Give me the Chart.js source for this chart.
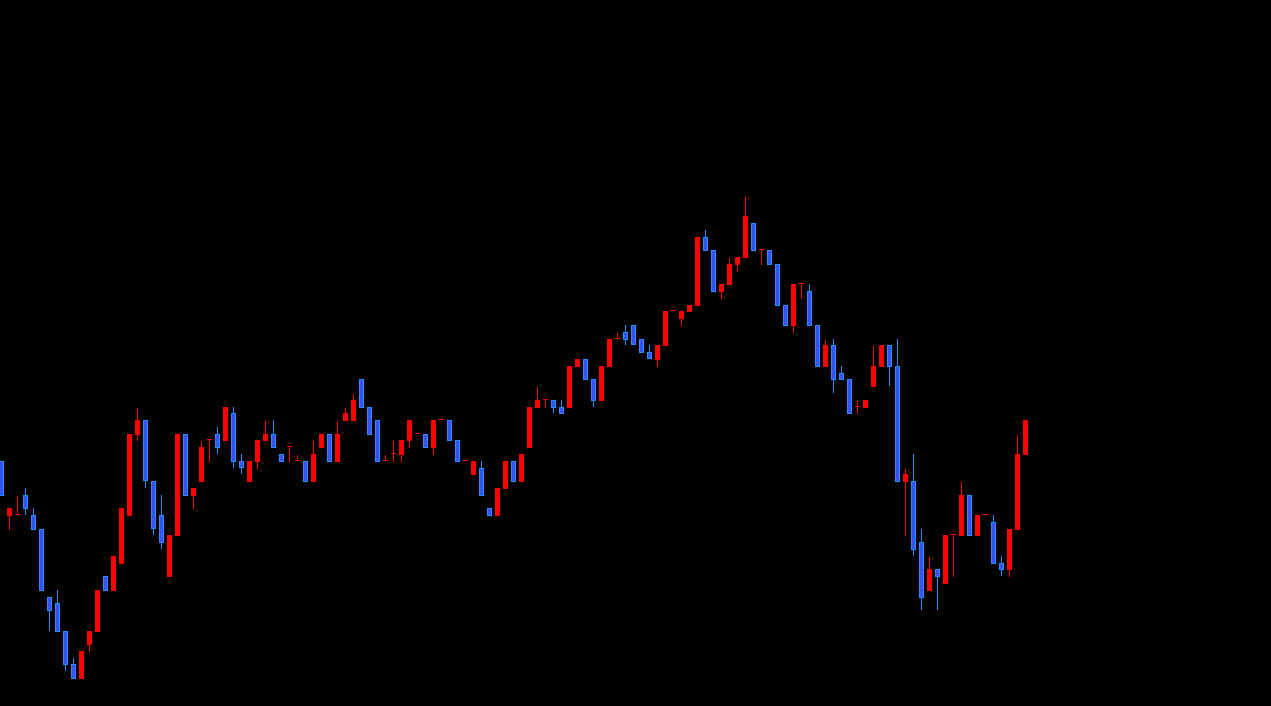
<!DOCTYPE html>
<html>
<head>
<meta charset="utf-8">
<title>Candles</title>
<script src="https://cdn.jsdelivr.net/npm/chart.js@4.4.1/dist/chart.umd.min.js"></script>
<style>
  html, body { margin: 0; padding: 0; background: #000; }
  #wrap { width: 1271px; height: 706px; }
</style>
</head>
<body>
<div id="wrap"><canvas id="candle-chart"></canvas></div>
<script>
// price data, one entry per bar (oldest first)
const opens = [245, 190, 191, 211, 191, 177, 109, 103, 75, 42, 27, 61, 74, 130, 115, 142, 190, 271, 286, 225,
  191, 129, 170, 272, 210, 224, 266, 272, 265, 293, 245, 224, 244, 265, 272, 252, 259, 245, 245, 224,
  258, 272, 244, 285, 285, 327, 299, 286, 245, 252, 251, 265, 272, 272, 258, 286, 286, 266, 245, 231,
  238, 198, 190, 217, 245, 224, 258, 298, 306, 306, 299, 298, 339, 347, 327, 305, 339, 367, 374, 381,
  367, 354, 346, 360, 395, 387, 394, 400, 469, 456, 414, 421, 441, 448, 483, 456, 456, 442, 401, 380,
  422, 415, 381, 339, 361, 333, 327, 299, 298, 319, 339, 361, 340, 224, 225, 164, 115, 137, 122, 171,
  170, 211, 170, 191, 184, 143, 136, 176, 251]
const highs = [245, 198, 210, 218, 198, 177, 109, 116, 75, 48, 55, 75, 116, 130, 150, 198, 272, 298, 286, 225,
  211, 171, 272, 272, 218, 265, 266, 279, 299, 299, 252, 245, 266, 285, 286, 252, 259, 251, 245, 265,
  272, 272, 285, 298, 312, 327, 299, 286, 251, 265, 266, 286, 272, 272, 286, 286, 286, 266, 245, 245,
  245, 198, 218, 245, 245, 252, 299, 319, 306, 306, 306, 340, 347, 347, 327, 340, 367, 373, 381, 381,
  367, 361, 361, 395, 395, 395, 401, 469, 476, 456, 422, 448, 449, 509, 483, 456, 456, 442, 401, 422,
  422, 422, 381, 366, 367, 340, 327, 305, 306, 360, 361, 361, 367, 237, 252, 177, 149, 137, 171, 171,
  224, 211, 191, 191, 191, 150, 177, 271, 286]
const lows = [210, 176, 191, 191, 176, 115, 75, 74, 35, 27, 27, 54, 74, 115, 115, 142, 190, 265, 218, 171,
  157, 129, 170, 210, 197, 224, 244, 252, 265, 238, 232, 224, 237, 265, 258, 244, 244, 245, 224, 224,
  258, 244, 244, 285, 285, 298, 271, 244, 245, 244, 244, 258, 272, 258, 251, 286, 265, 244, 245, 231,
  210, 190, 190, 217, 224, 224, 258, 298, 298, 293, 292, 298, 339, 326, 299, 305, 339, 367, 361, 361,
  353, 347, 339, 360, 395, 380, 394, 400, 455, 414, 407, 421, 434, 448, 455, 441, 441, 400, 380, 373,
  407, 380, 339, 339, 313, 326, 292, 292, 298, 319, 339, 320, 224, 170, 150, 96, 115, 96, 122, 129,
  170, 170, 170, 191, 142, 130, 129, 176, 251]
const closes = [210, 198, 191, 197, 176, 115, 95, 74, 41, 27, 55, 75, 116, 115, 150, 198, 272, 286, 225, 177,
  163, 171, 272, 210, 218, 259, 266, 258, 299, 244, 238, 245, 266, 272, 258, 244, 259, 245, 224, 252,
  272, 244, 272, 293, 306, 298, 271, 244, 245, 252, 266, 286, 272, 258, 286, 286, 265, 244, 245, 245,
  210, 190, 218, 245, 224, 252, 299, 306, 306, 298, 292, 340, 347, 326, 305, 340, 367, 367, 366, 361,
  353, 347, 361, 395, 395, 395, 401, 469, 455, 414, 422, 442, 449, 490, 455, 456, 441, 400, 380, 422,
  422, 380, 339, 361, 326, 326, 292, 299, 306, 340, 361, 339, 224, 232, 156, 108, 137, 129, 171, 171,
  211, 170, 191, 191, 142, 136, 177, 252, 286]

const upColor = '#ff0000'
const downFill = '#3d4ff8'
const downLine = '#1e90ff'

const wickData = []
const bodyData = []
const wickColors = []
const bodyColors = []
const bodyBorders = []
for (let i = 0; i < opens.length; i++) {
  const up = closes[i] >= opens[i]
  wickData.push({ x: i, y: [lows[i], highs[i]] })
  bodyData.push({ x: i, y: [opens[i], closes[i]] })
  wickColors.push(up ? upColor : downLine)
  bodyColors.push(up ? upColor : downFill)
  bodyBorders.push(up ? upColor : downLine)
}

// 8px per bar, first bar centred at x = 1.5
const slotPx = 8
const xMin = -1.5 / slotPx
const xMax = xMin + 1271 / slotPx

const config = {
  type: 'bar',
  data: {
    datasets: [
      {
        label: 'Body',
        data: bodyData,
        backgroundColor: bodyColors,
        borderColor: bodyBorders,
        borderWidth: 1,
        borderSkipped: false,
        barThickness: 5,
        minBarLength: 1,
        inflateAmount: 0,
        grouped: false,
        order: 0
      },
      {
        label: 'Wick',
        data: wickData,
        backgroundColor: wickColors,
        borderWidth: 0,
        barThickness: 1,
        inflateAmount: 0,
        grouped: false,
        order: 1
      }
    ]
  },
  options: {
    responsive: true,
    maintainAspectRatio: false,
    animation: false,
    layout: { padding: 0 },
    scales: {
      x: { type: 'linear', min: xMin, max: xMax, offset: false, display: false },
      y: { min: 0, max: 706, display: false }
    },
    plugins: {
      legend: { display: false },
      tooltip: { enabled: false }
    }
  }
}

new Chart(document.getElementById('candle-chart'), config)
</script>
</body>
</html>
